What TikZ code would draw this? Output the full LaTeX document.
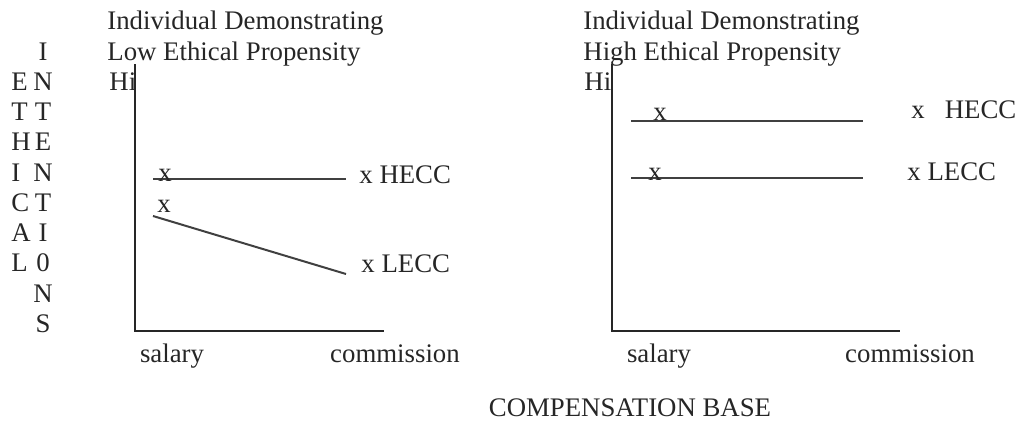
\documentclass[tikz,border=0pt]{standalone}
\usepackage{fontspec}
\setmainfont{Liberation Serif}
\begin{document}
\begin{tikzpicture}[x=0.5pt,y=-0.5pt,
  lbl/.style={inner sep=0pt,anchor=base west,font=\fontsize{13.4pt}{16pt}\selectfont,text=black!85},
  cl/.style={inner sep=0pt,anchor=base,font=\fontsize{13.4pt}{16pt}\selectfont,text=black!85},
  axis/.style={draw=black!85,line width=0.9pt},
  curve/.style={draw=black!75,line width=1pt}]
\useasboundingbox (0,0) rectangle (1020,423);
% vertical axis labels
\foreach \ch/\y [count=\i] in {E/90,T/120,H/150,I/181,C/211,A/241,L/271}
  \node[lbl] (e\i) at (11,\y) {\ch};
\foreach \ch/\y [count=\i] in {I/60,N/90,T/120,E/150,N/181,T/211,I/241,0/271,N/302,S/332}
  \node[cl] (n\i) at (43,\y) {\ch};
% left panel
\node[lbl] (t1a) at (107,29) {Individual Demonstrating};
\node[lbl] (t1b) at (107,60) {Low Ethical Propensity};
\node[lbl] (hi1) at (109,90) {Hi};
\coordinate (o1) at (135,331);
\coordinate (top1) at (135,64);
\coordinate (end1) at (384,331);
\draw[axis] (top1) -- (o1) -- (end1);
\coordinate (h1s) at (153,179);
\coordinate (h1e) at (346,179);
\coordinate (l1s) at (153,216);
\coordinate (l1e) at (346,274);
\draw[curve] (h1s) -- (h1e);
\draw[curve] (l1s) -- (l1e);
\node[lbl] (xh1) at (158,181) {x};
\node[lbl] (xl1) at (157,212) {x};
\node[lbl] (hecc1) at (359,183) {x HECC};
\node[lbl] (lecc1) at (361,272) {x LECC};
\node[cl] (sal1) at (172,362) {salary};
\node[cl] (com1) at (395,362) {commission};
% right panel
\node[lbl] (t2a) at (583,29) {Individual Demonstrating};
\node[lbl] (t2b) at (583,60) {High Ethical Propensity};
\node[lbl] (hi2) at (584,90) {Hi};
\coordinate (o2) at (612,331);
\coordinate (top2) at (612,64);
\coordinate (end2) at (900,331);
\draw[axis] (top2) -- (o2) -- (end2);
\coordinate (h2s) at (631,121);
\coordinate (h2e) at (863,121);
\coordinate (l2s) at (631,178);
\coordinate (l2e) at (863,178);
\draw[curve] (h2s) -- (h2e);
\draw[curve] (l2s) -- (l2e);
\node[lbl] (xh2) at (653,120) {x};
\node[lbl] (xl2) at (648,180) {x};
\node[lbl] (hecc2) at (911,118) {x\hspace{10pt}HECC};
\node[lbl] (lecc2) at (907,180) {x LECC};
\node[cl] (sal2) at (659,362) {salary};
\node[cl] (com2) at (910,362) {commission};
\node[cl] (cb) at (630,416) {COMPENSATION BASE};
\end{tikzpicture}
\end{document}
